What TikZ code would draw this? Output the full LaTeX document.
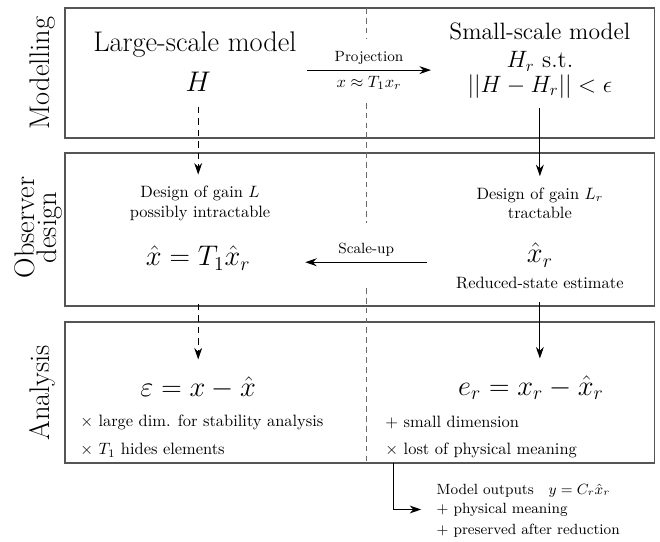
\documentclass[tikz,border=0pt]{standalone}
\usepackage{tikz}
\usetikzlibrary{arrows.meta,positioning}
\usepackage{xcolor}
\definecolor{FrameGray}{RGB}{85,85,85}
\definecolor{DividerGray}{RGB}{105,105,105}
\tikzset{
  panel/.style={draw=FrameGray, line width=0.9pt, minimum width=12.61cm, inner sep=0pt},
  sidelabel/.style={rotate=90, font=\fontsize{17.28}{13.6}\selectfont, align=center},
  bigtext/.style={font=\LARGE, align=center},
  midtext/.style={font=\Large, align=center, inner sep=1pt},
  plaintext/.style={align=center},
  smalltext/.style={font=\small, align=center},
  listtext/.style={anchor=west, inner sep=1pt},
  arrow/.style={-{Stealth[length=7pt,width=4.8pt]}, line width=0.6pt},
  dasharrow/.style={arrow, dash pattern=on 4pt off 3pt},
  divider/.style={DividerGray, line width=0.6pt, dash pattern=on 3.5pt off 2.5pt}
}

\begin{document}
\begin{tikzpicture}
  \useasboundingbox (0,0) rectangle (14.12,-11.58);
  % panels and row labels
  \node[panel, minimum height=2.78cm] (modelbox) at (7.695,-1.56) {};
  \node[panel, minimum height=3.28cm] (designbox) at (7.695,-4.91) {};
  \node[panel, minimum height=3.02cm] (analysisbox) at (7.695,-8.40) {};
  \node[sidelabel] (modellbl) at (0.90,-1.56) {Modelling};
  \node[sidelabel] (designlbl) at (0.83,-4.87) {Observer\\design};
  \node[sidelabel] (analysislbl) at (0.90,-8.40) {Analysis};
  % divider
  \draw[divider] (7.83,-0.17) -- (7.83,-0.81);
  \draw[divider] (7.83,-2.20) -- (7.83,-4.77);
  \draw[divider] (7.83,-6.16) -- (7.83,-9.91);

  % modelling
  \node[bigtext] (largemodel) at (4.17,-0.95) {Large-scale model};
  \node[bigtext] (H) at (4.24,-1.75) {$H$};
  \node[midtext] (smallmodel) at (11.55,-0.68) {Small-scale model};
  \node[midtext] (Hr) at (11.55,-1.31) {$H_r$ s.t.};
  \node[midtext] (normbound) at (11.55,-1.85) {$||H-H_r||<\epsilon$};
  \coordinate (projfrom) at (6.57,-1.50);
  \coordinate (projto) at (9.22,-1.50);
  \draw[arrow] (projfrom) -- node[above, smalltext] (projlbl) {Projection}
    node[below] (projeq) {$x\approx T_1x_r$} (projto);

  % observer design
  \node[plaintext] (designL) at (4.28,-4.35) {Design of gain $L$\\possibly intractable};
  \node[bigtext] (xhat) at (4.24,-5.52) {$\hat{x}=T_1\hat{x}_r$};
  \node[plaintext] (designLr) at (11.55,-4.35) {Design of gain $L_r$\\tractable};
  \node[bigtext] (xhatr) at (11.55,-5.46) {$\hat{x}_r$};
  \node[plaintext] (reduced) at (11.55,-6.06) {Reduced-state estimate};
  \coordinate (scalefrom) at (9.14,-5.61);
  \coordinate (scaleto) at (6.53,-5.61);
  \draw[arrow] (scalefrom) -- node[above, smalltext] (scalelbl) {Scale-up} (scaleto);

  % analysis
  \node[bigtext] (errfull) at (4.24,-8.30) {$\varepsilon=x-\hat{x}$};
  \node[bigtext] (errred) at (11.36,-8.30) {$e_r=x_r-\hat{x}_r$};
  \node[listtext] (consA) at (1.675,-9.03) {$\times$ large dim. for stability analysis};
  \node[listtext] (consB) at (1.675,-9.63) {$\times$ $T_1$ hides elements};
  \node[listtext] (prosA) at (8.205,-9.03) {$+$ small dimension};
  \node[listtext] (consC) at (8.205,-9.63) {$\times$ lost of physical meaning};

  % model outputs
  \node[listtext, font=\small] (outputs) at (9.30,-10.49) {Model outputs\quad $y=C_r\hat{x}_r$};
  \node[listtext, font=\small] (physical) at (9.30,-10.90) {$+$ physical meaning};
  \node[listtext, font=\small] (preserved) at (9.30,-11.36) {$+$ preserved after reduction};
  \coordinate (tap) at (8.41,-9.91);
  \draw[arrow, shorten >=0.29cm] (tap) |- (physical.west);

  % flow between rows
  \draw[dasharrow, shorten <=0.2cm, shorten >=0.12cm] (H.south) -- (H.south |- designL.north);
  \draw[arrow, shorten <=0.17cm, shorten >=0.12cm] (normbound.south) -- (normbound.south |- designLr.north);
  \draw[dasharrow, shorten <=0.6cm, shorten >=0.25cm] (xhat.south) -- (xhat.south |- errfull.north);
  \draw[arrow, shorten <=0.15cm, shorten >=0.25cm] (reduced.south) -- (reduced.south |- errred.north);
\end{tikzpicture}
\end{document}
